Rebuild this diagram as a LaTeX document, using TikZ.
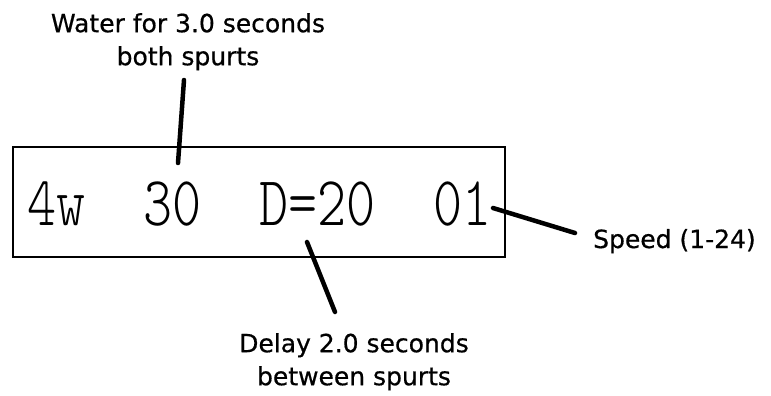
\documentclass[tikz,border=0pt]{standalone}
\usepackage{fontspec}
\newfontfamily\notefont[FakeBold=0.6]{DejaVu Sans}
\begin{document}
\begin{tikzpicture}[x=1pt, y=-1pt,
  leader/.style={line width=4.5pt, line cap=round},
  note/.style={font=\notefont\fontsize{25}{33}\selectfont, align=center, inner sep=0pt}]
  \useasboundingbox (0,0) rectangle (771,396);

  % Display
  \draw[line width=2pt] (13,147) rectangle (505,257);
  \node[anchor=base west, inner sep=0pt, yscale=1.27,
        font=\ttfamily\fontseries{l}\fontsize{55.3}{60}\selectfont] (readout) at (27,225) {4w~~30~~D=20~~01};

  % Labels
  \node[note, anchor=north] (water) at (188,13) {Water for 3.0 seconds\\both spurts};
  \node[note, anchor=north] (delay) at (354,333) {Delay 2.0 seconds\\between spurts};
  \node[note, anchor=base west] (speed) at (593,248) {Speed (1-24)};

  \coordinate (W1) at (184,80);
  \coordinate (W2) at (178,163);
  \coordinate (D1) at (307,242);
  \coordinate (D2) at (335,312);
  \coordinate (S1) at (493,208);
  \coordinate (S2) at (575,233);

  % Leaders
  \draw[leader] (W1) -- (W2);
  \draw[leader] (D1) -- (D2);
  \draw[leader] (S1) -- (S2);

\end{tikzpicture}
\end{document}
